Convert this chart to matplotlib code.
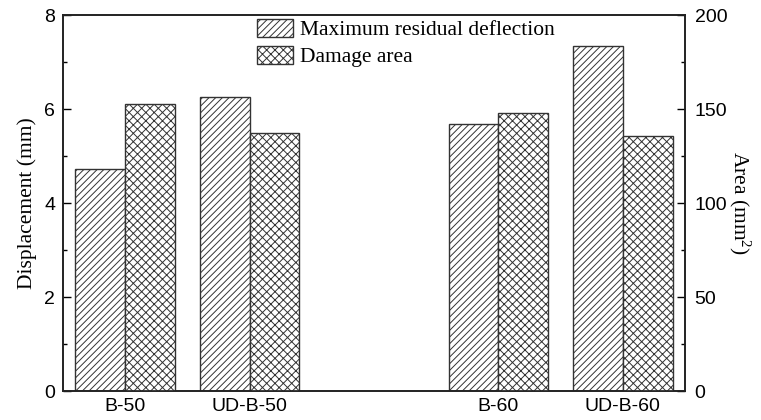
import numpy as np
import matplotlib
matplotlib.use("Agg")
import matplotlib.pyplot as plt
from matplotlib.ticker import MultipleLocator

# data
samples = ["B-50", "UD-B-50", "B-60", "UD-B-60"]
positions = [1, 2, 4, 5]
deflection = [4.72, 6.26, 5.68, 7.35]      # mm, left axis
damage_area = [152.8, 137.0, 148.0, 135.8]  # mm^2, right axis

plt.rcParams['font.family'] = ['Liberation Sans', 'DejaVu Sans']
plt.rcParams['mathtext.default'] = 'regular'
plt.rcParams['hatch.linewidth'] = 0.7
serif = ['Liberation Serif', 'DejaVu Serif']

fig = plt.figure(figsize=(7.61, 4.2), dpi=100)
ax = fig.add_axes([63 / 761, 1 - 391 / 420, 622 / 761, 376 / 420])
ax2 = ax.twinx()

w = 0.4
b1 = ax.bar(np.array(positions) - w / 2, deflection, width=w, color='white',
            edgecolor='#333333', linewidth=1.0, hatch='/////',
            label='Maximum residual deflection')
b2 = ax2.bar(np.array(positions) + w / 2, damage_area, width=w, color='white',
             edgecolor='#333333', linewidth=1.0, hatch='xxxx',
             label='Damage area')

ax.set_xlim(0.5, 5.5)
ax.set_ylim(0, 8)
ax2.set_ylim(0, 200)
ax.set_xticks(positions)
ax.set_xticklabels(samples, fontsize=14)
ax.tick_params(axis='x', length=0, pad=5)

ax.yaxis.set_major_locator(MultipleLocator(2))
ax.yaxis.set_minor_locator(MultipleLocator(1))
ax2.yaxis.set_major_locator(MultipleLocator(50))
ax2.yaxis.set_minor_locator(MultipleLocator(25))
ax.tick_params(axis='y', which='major', direction='in', length=6, width=1, labelsize=14, pad=5.5)
ax.tick_params(axis='y', which='minor', direction='in', length=3, width=1)
ax2.tick_params(axis='y', which='major', direction='in', length=6, width=1, labelsize=14, pad=7)
ax2.tick_params(axis='y', which='minor', direction='in', length=3, width=1)

for a in (ax, ax2):
    for s in a.spines.values():
        s.set_linewidth(1.2)
        s.set_color('#222222')

ax.set_ylabel('Displacement (mm)', family=serif, fontsize=15.5, labelpad=5)
ax2.set_ylabel('Area (mm$^2$)', family=serif, fontsize=15.5, rotation=270, labelpad=18)

ax.legend([b1, b2], [b1.get_label(), b2.get_label()], loc='upper left',
          bbox_to_anchor=(257 / 761, 1 - 19 / 420), bbox_transform=fig.transFigure,
          frameon=False, borderpad=0, borderaxespad=0, handlelength=1.65,
          handleheight=0.9, handletextpad=0.35, labelspacing=0.25,
          prop={'family': serif, 'size': 15.5})

fig.savefig("out.png", dpi=100)
